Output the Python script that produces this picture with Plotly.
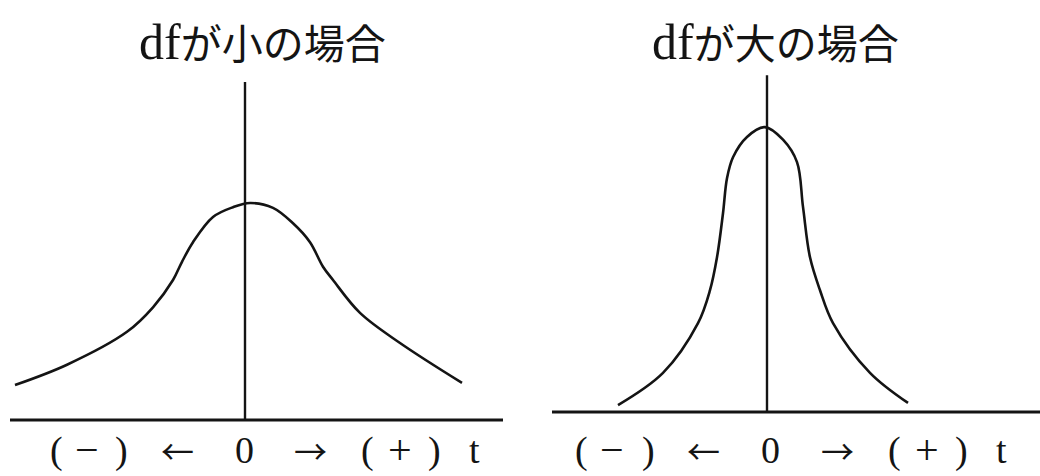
import plotly.graph_objects as go

# t-distribution sketches: density height (relative) against t
small_df_t = [-4.60, -3.56, -2.36, -1.84, -1.44, -1.26, -1.04, -0.64, -0.24, 0.10,
              0.56, 0.96, 1.30, 1.56, 1.76, 2.30, 3.10, 4.34]
small_df_d = [0.050, 0.079, 0.126, 0.161, 0.200, 0.226, 0.254, 0.290, 0.304, 0.310,
              0.303, 0.281, 0.254, 0.219, 0.200, 0.153, 0.110, 0.053]

large_df_t = [-2.98, -2.08, -1.38, -1.14, -1.00, -0.88, -0.80, -0.68, -0.40, -0.04,
              0.32, 0.60, 0.72, 0.86, 1.06, 1.32, 2.06, 2.82]
large_df_d = [0.010, 0.056, 0.127, 0.174, 0.221, 0.284, 0.334, 0.364, 0.393, 0.407,
              0.389, 0.357, 0.293, 0.221, 0.174, 0.127, 0.056, 0.013]

titles = ["dfが小の場合", "dfが大の場合"]
axis_tokens = ["(", "−", ")", "←", "0", "→", "(", "+", ")", "t"]

W, H = 1040, 476
INK = "#141414"
SERIF = "Liberation Serif, DejaVu Serif, serif"
CJK = "Noto Sans CJK JP"

# per-token font for the caption under each t axis
tok_style = {
    "(": (SERIF, 38), ")": (SERIF, 38), "0": (SERIF, 38), "t": (SERIF, 38),
    "−": (SERIF, 42), "+": (SERIF, 42),
    "←": (CJK, 33), "→": (CJK, 33),
}

fig = go.Figure()

panels = [
    dict(t=small_df_t, d=small_df_d, xa="x", ya="y", dom=[0.0, 0.5],
         xr=[-4.9, 5.5], yr=[-0.08, 0.60], base=[-4.7, 5.16], vtop=0.483,
         title_x=262, tok_t=[-3.78, -3.16, -2.48, -1.36, -0.02, 1.30, 2.44, 3.10, 3.78, 4.58]),
    dict(t=large_df_t, d=large_df_d, xa="x2", ya="y2", dom=[0.5, 1.0],
         xr=[-4.94, 5.46], yr=[-0.0914, 0.5886], base=[-4.3, 5.46], vtop=0.481,
         title_x=775, tok_t=[-3.72, -3.10, -2.38, -1.28, 0.06, 1.40, 2.54, 3.20, 3.88, 4.68]),
]

for i, p in enumerate(panels):
    fig.add_trace(go.Scatter(x=p["t"], y=p["d"], mode="lines", xaxis=p["xa"], yaxis=p["ya"],
                             line=dict(color=INK, width=2.6, shape="spline", smoothing=1.0),
                             hoverinfo="skip", showlegend=False))
    # horizontal t axis and vertical axis at t = 0
    fig.add_shape(type="line", xref=p["xa"], yref=p["ya"], x0=p["base"][0], x1=p["base"][1],
                  y0=0, y1=0, line=dict(color=INK, width=2.8))
    fig.add_shape(type="line", xref=p["xa"], yref=p["ya"], x0=0, x1=0,
                  y0=0, y1=p["vtop"], line=dict(color=INK, width=2.4))
    # panel title
    head, tail = titles[i][:2], titles[i][2:]
    fig.add_annotation(xref="paper", yref="paper", x=p["title_x"] / W, y=1 - 41 / H,
                       text=f"<span style='font-family:{SERIF};font-size:50px'>{head}</span>{tail}",
                       showarrow=False, font=dict(family=CJK, size=41, color=INK),
                       xanchor="center", yanchor="middle")
    # axis caption tokens
    for tok, tt in zip(axis_tokens, p["tok_t"]):
        fam, size = tok_style[tok]
        fig.add_annotation(xref=p["xa"], yref="paper", x=tt, y=1 - 450 / H, text=tok,
                           showarrow=False, font=dict(family=fam, size=size, color=INK),
                           xanchor="center", yanchor="middle")

for i, p in enumerate(panels):
    sfx = "" if i == 0 else "2"
    fig.update_layout(**{
        f"xaxis{sfx}": dict(domain=p["dom"], range=p["xr"], visible=False, fixedrange=True),
        f"yaxis{sfx}": dict(domain=[0, 1], range=p["yr"], visible=False, fixedrange=True,
                            anchor=p["xa"]),
    })
fig.update_layout(xaxis2=dict(anchor="y2"))

fig.update_layout(width=W, height=H, margin=dict(l=0, r=0, t=0, b=0),
                  paper_bgcolor="white", plot_bgcolor="white", showlegend=False)

fig.write_html("out.html", config={"displayModeBar": False})
